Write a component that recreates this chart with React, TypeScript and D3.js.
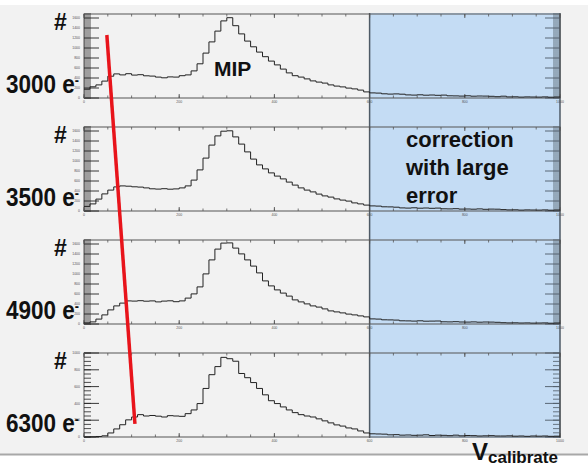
import React from 'react';
import * as d3 from 'd3';

// ---- data ----
const panelLabels = ['3000 e', '3500 e', '4900 e', '6300 e'];
const yMaxes = [1680, 1680, 1680, 1000];
const yMajorStep = [200, 200, 200, 200];
const yMinorStep = [40, 40, 40, 50];
const xDomain = [0, 1000];
const xMajorTicks = [0, 200, 400, 600, 800, 1000];
const xMinorStep = 50;
const correctionStart = 600; // start of the blue "large error" band

const hist3000 = [
  176, 224, 262, 338, 436, 482, 462, 486, 458, 466,
  444, 438, 418, 404, 422, 418, 446, 462, 542, 684,
  898, 1122, 1338, 1542, 1606, 1446, 1282, 1138, 1024, 918,
  826, 738, 662, 578, 502, 446, 418, 382, 342, 318,
  298, 262, 238, 222, 198, 182, 158, 122, 102, 98,
  84, 78, 82, 76, 62, 58, 64, 56, 60, 54,
  58, 44, 42, 38, 44, 36, 40, 38, 34, 26,
  36, 22, 24, 18, 22, 20, 18, 22, 16, 20,
];
const hist3500 = [
  92, 142, 238, 342, 418, 482, 502, 496, 484, 478,
  462, 444, 438, 446, 436, 442, 462, 502, 618, 822,
  1058, 1318, 1502, 1596, 1604, 1482, 1338, 1182, 1038, 922,
  842, 762, 698, 642, 578, 518, 462, 418, 382, 338,
  302, 278, 242, 218, 198, 162, 142, 118, 102, 98,
  84, 82, 76, 62, 58, 64, 56, 60, 54, 58,
  44, 42, 46, 38, 40, 36, 42, 34, 38, 36,
  28, 22, 24, 18, 22, 20, 18, 22, 16, 20,
];
const hist4900 = [
  22, 42, 98, 182, 282, 362, 418, 462, 458, 466,
  456, 462, 442, 458, 464, 446, 462, 518, 602, 742,
  1002, 1282, 1498, 1618, 1622, 1518, 1402, 1282, 1158, 1022,
  862, 762, 682, 618, 558, 482, 442, 402, 362, 338,
  302, 262, 242, 222, 198, 182, 162, 142, 102, 98,
  84, 82, 78, 64, 62, 58, 64, 56, 58, 60,
  44, 42, 46, 40, 38, 42, 36, 40, 38, 34,
  26, 22, 24, 20, 22, 18, 20, 22, 16, 20,
];
const hist6300 = [
  0, 2, 6, 14, 48, 96, 146, 204, 238, 266,
  250, 256, 248, 238, 254, 250, 246, 278, 322, 398,
  578, 742, 838, 948, 932, 902, 756, 706, 648, 578,
  502, 432, 398, 358, 322, 290, 266, 250, 238, 216,
  192, 168, 144, 130, 108, 96, 72, 48, 38, 36,
  34, 26, 28, 22, 24, 20, 22, 26, 18, 22,
  20, 16, 22, 14, 18, 16, 12, 14, 16, 12,
  12, 14, 10, 12, 8, 12, 10, 12, 8, 10,
];
const histograms = [hist3000, hist3500, hist4900, hist6300];

// red trend line: start in first panel, end in last panel (data coords)
const trendStart = { panel: 0, x: 48, y: 1260 };
const trendEnd = { panel: 3, x: 107, y: 155 };

const FONT = "'Liberation Sans', Arial, Helvetica, sans-serif";

export default function App() {
  const W = 588;
  const H = 466;
  const plotLeft = 84;
  const plotRight = 560;
  const panelTop0 = 14;
  const panelH = 84;
  const panelStep = 113;

  const x = d3.scaleLinear().domain(xDomain).range([plotLeft, plotRight]);
  const panels = histograms.map((vals, p) => {
    const top = panelTop0 + p * panelStep;
    const bottom = top + panelH;
    const y = d3.scaleLinear().domain([0, yMaxes[p]]).range([bottom, top]);
    return { vals, top, bottom, y, p };
  });

  const xMinor = d3.range(xDomain[0], xDomain[1] + 1, xMinorStep);
  const bandTop = panels[0].top - 1;
  const bandBottom = panels[3].bottom + 1;

  const tPanelA = panels[trendStart.panel];
  const tPanelB = panels[trendEnd.panel];
  const trendPath = d3.line()([
    [x(trendStart.x), tPanelA.y(trendStart.y)],
    [x(trendEnd.x), tPanelB.y(trendEnd.y)],
  ]);

  return (
    <svg
      width={W}
      height={H}
      style={{ position: 'absolute', left: 0, top: 0 }}
      fontFamily={FONT}
    >
      <rect x={0} y={0} width={W} height={H} fill="#ffffff" />
      <rect x={0} y={5} width={W} height={449} fill="#f2f2f2" />

      {/* blue band */}
      <rect
        x={x(correctionStart)}
        y={bandTop}
        width={x(xDomain[1]) - x(correctionStart)}
        height={bandBottom - bandTop}
        fill="#c4dcf4"
      />
      <line x1={x(correctionStart)} x2={x(correctionStart)} y1={bandTop} y2={bandBottom} stroke="#4e5a66" strokeWidth={1.5} />
      <line x1={x(xDomain[1])} x2={x(xDomain[1])} y1={bandTop} y2={bandBottom} stroke="#4e5a66" strokeWidth={1.5} />

      {panels.map(({ vals, top, bottom, y, p }) => {
        const bw = (xDomain[1] - xDomain[0]) / vals.length;
        const pts: [number, number][] = vals.map((v, i) => [xDomain[0] + i * bw, v]);
        pts.push([xDomain[1], vals[vals.length - 1]]);
        const path = d3
          .line<[number, number]>()
          .x((d) => x(d[0]))
          .y((d) => y(d[1]))
          .curve(d3.curveStepAfter)(pts);
        const yMinor = d3.range(0, yMaxes[p] + 0.1, yMinorStep[p]);
        const yMajor = d3.range(0, yMaxes[p] + 0.1, yMajorStep[p]);
        return (
          <g key={p}>
            {/* frame */}
            <rect x={plotLeft} y={top} width={plotRight - plotLeft} height={panelH} fill="none" stroke="#555" strokeWidth={1} />
            {/* y ticks left & right */}
            {yMinor.map((v) => (
              <g key={'ym' + v}>
                <line x1={plotLeft} x2={plotLeft + 7} y1={y(v)} y2={y(v)} stroke="#222" strokeWidth={0.8} />
                <line x1={plotRight} x2={plotRight - 7} y1={y(v)} y2={y(v)} stroke="#4e5a66" strokeWidth={0.8} />
              </g>
            ))}
            {yMajor.map((v) => (
              <g key={'yM' + v}>
                <line x1={plotLeft} x2={plotLeft + 15} y1={y(v)} y2={y(v)} stroke="#222" strokeWidth={0.9} />
                <line x1={plotRight} x2={plotRight - 15} y1={y(v)} y2={y(v)} stroke="#4e5a66" strokeWidth={0.9} />
                <text x={plotLeft - 4} y={y(v) + 1.2} fontSize={3.5} textAnchor="end" fill="#555">{v}</text>
              </g>
            ))}
            {/* x ticks top & bottom */}
            {xMinor.map((v) => (
              <g key={'xm' + v}>
                <line x1={x(v)} x2={x(v)} y1={top} y2={top + 2.5} stroke="#555" strokeWidth={0.8} />
                <line x1={x(v)} x2={x(v)} y1={bottom} y2={bottom - 2.5} stroke="#555" strokeWidth={0.8} />
              </g>
            ))}
            {xMajorTicks.map((v) => (
              <g key={'xM' + v}>
                <line x1={x(v)} x2={x(v)} y1={top} y2={top + 4} stroke="#555" strokeWidth={0.9} />
                <line x1={x(v)} x2={x(v)} y1={bottom} y2={bottom - 4} stroke="#555" strokeWidth={0.9} />
                <text x={x(v)} y={bottom + 5} fontSize={3.5} textAnchor="middle" fill="#555">{v}</text>
              </g>
            ))}
            {/* histogram */}
            <path d={path || ''} fill="none" stroke="#222" strokeWidth={1} />
            {/* labels */}
            <text x={54} y={top + 16} fontSize={23} fontWeight="bold" fill="#111">#</text>
            <text
              transform={`translate(6, ${top + 79}) scale(0.9, 1)`}
              fontSize={25}
              fontWeight="bold"
              fill="#111"
            >
              {panelLabels[p]}
              <tspan fontSize={14} dy={-8}>-</tspan>
            </text>
          </g>
        );
      })}

      {/* red trend line */}
      <path d={trendPath || ''} stroke="#e8141b" strokeWidth={3.5} fill="none" />

      <text x={214} y={76} fontSize={21} fontWeight="bold" fill="#111">MIP</text>

      <text fontSize={22} fontWeight="bold" fill="#111">
        <tspan x={406} y={147}>correction</tspan>
        <tspan x={406} y={175}>with large</tspan>
        <tspan x={406} y={203}>error</tspan>
      </text>

      {/* separator */}
      <line x1={0} x2={W} y1={454.5} y2={454.5} stroke="#a8a8a8" strokeWidth={2} />

      <text x={472} y={460} fontSize={24} fontWeight="bold" fill="#111">
        V<tspan fontSize={17} dy={3}>calibrate</tspan>
      </text>
    </svg>
  );
}
